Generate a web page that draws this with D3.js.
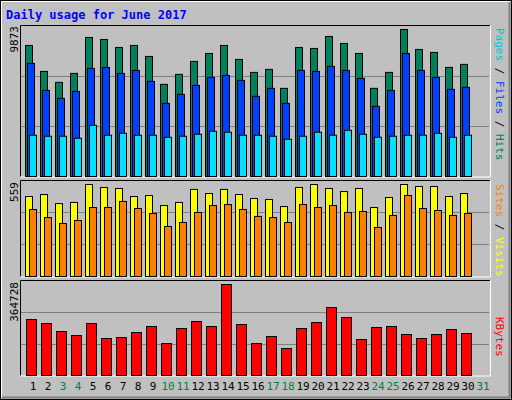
<!DOCTYPE html>
<html><head><meta charset="utf-8">
<script src="https://cdn.jsdelivr.net/npm/d3@7"></script>
<style>body{margin:0;background:#fff}svg{display:block}</style>
</head><body>
<script>
const days = d3.range(1, 32);
const weekendDays = [3,4,10,11,17,18,24,25,31];
const hits = [8802,7059,6322,6925,9338,9204,8668,8802,8065,6188,6858,7730,8266,8802,7864,6992,7193,5920,8668,8601,9405,8936,8266,5920,6992,9873,8534,8333,7328,7529];
const files = [7596,5786,5250,5719,7261,7328,6925,7127,6389,4915,5518,6121,6657,6791,6456,5384,5920,4915,7127,7059,7395,7127,6590,4714,5786,8266,7127,6657,5853,5987];
const pages = [2770,2703,2703,2569,3440,2770,2904,2770,2770,2636,2703,2837,3038,2971,2770,2770,2703,2502,2703,2971,2770,3105,2837,2636,2703,2770,2770,2904,2636,2770];
const visits = [486,498,443,450,559,541,535,486,492,431,450,529,504,529,498,474,468,425,541,559,535,516,535,419,480,559,547,547,486,504];
const sites = [407,358,322,340,419,419,456,413,383,304,328,389,431,437,407,365,358,328,437,419,431,389,395,298,371,492,413,401,371,383];
const kbytes = [224448,208416,176352,160320,208416,148296,152304,172344,196392,128256,188376,216432,196392,364728,204408,128256,156312,108216,188376,212424,272544,232464,144288,192384,196392,164328,148296,164328,184368,168336];
const maxLabels = ["9873","559","364728"];

const W=512,H=400;
const svg=d3.select("body").append("svg").attr("width",W).attr("height",H);
svg.append("rect").attr("width",W).attr("height",H).attr("fill","#c0c0c0");
// outer 3D frame
svg.append("rect").attr("x",0.5).attr("y",0.5).attr("width",W-1).attr("height",H-1).attr("fill","none").attr("stroke","#000");
svg.append("path").attr("d","M1.5,398V1.5H510").attr("stroke","#fff").attr("fill","none");
svg.append("path").attr("d","M2,397.5H509.5V2").attr("stroke","#808080").attr("stroke-width",2).attr("fill","none");

svg.append("text").attr("x",6).attr("y",19).attr("font-family","DejaVu Sans Mono").attr("font-weight","bold")
  .attr("font-size",12).attr("fill","#0000ff").text("Daily usage for June 2017");

const x = d3.scaleBand().domain(days).range([25,490]).paddingInner(0).paddingOuter(0);
// band step = 15
const mono="DejaVu Sans Mono";

function panel(y0,y1){
  svg.append("rect").attr("x",20).attr("y",y0).attr("width",470).attr("height",y1-y0).attr("fill","#c0c0c0");
  const h=y1-y0;
  [1/3,2/3].forEach(f=>{
    const gy=Math.round(y1-h*f)+0.5;
    svg.append("line").attr("x1",21).attr("x2",489).attr("y1",gy).attr("y2",gy).attr("stroke","#808080");
  });
  svg.append("path").attr("d",`M20.5,${y1}V${y0+0.5}H490`).attr("stroke","#000").attr("fill","none");
  svg.append("path").attr("d",`M20.5,${y1+0.5}H490.5V${y0}`).attr("stroke","#fff").attr("fill","none");
}
panel(25,176.5); panel(180,276.5); panel(280,375.5);

function bars(data,y,off,w,color){
  svg.append("g").selectAll("rect").data(data).join("rect")
    .attr("x",(d,i)=>x(i+1)+off+0.5).attr("width",w)
    .attr("y",d=>y(d)+0.5).attr("height",d=>y(0)-y(d))
    .attr("fill",color).attr("stroke","#000").attr("stroke-width",1);
}
const y1s=d3.scaleLinear().domain([0,9873]).range([176,29]);
const y2s=d3.scaleLinear().domain([0,559]).range([276,184]);
const y3s=d3.scaleLinear().domain([0,364728]).range([375,284]);
bars(hits,y1s,0,7,"#00805c");
bars(files,y1s,2,7,"#0040ff");
bars(pages,y1s,4,7,"#00e0ff");
bars(visits,y2s,0,7,"#ffff00");
bars(sites,y2s,4,7,"#ff8000");
bars(kbytes,y3s,1,10,"#ff0000");

// max labels rotated
[[y1s,25],[y2s,181],[y3s,281]].forEach(([s,top],i)=>{
  svg.append("text").attr("transform",`translate(18,${top+1}) rotate(-90)`).attr("text-anchor","end")
    .attr("font-family",mono).attr("font-size",11).attr("fill","#000").text(maxLabels[i]);
});

// right legends (rotated 90)
function legend(parts,yTop){
  const t=svg.append("text").attr("transform",`translate(496,${yTop}) rotate(90)`)
    .attr("font-family",mono).attr("font-size",11);
  parts.forEach(p=>t.append("tspan").attr("fill",p[1]).text(p[0]));
}
legend([["Pages","#00c0e0"],[" / ","#000"],["Files","#0040ff"],[" / ","#000"],["Hits","#00805c"]],28);
legend([["Sites","#ff8000"],[" / ","#000"],["Visits","#ffff00"]],184);
legend([["KBytes","#ff0000"]],317);

// day axis
const ax=d3.axisBottom(x).tickSize(0).tickPadding(0);
const g=svg.append("g").attr("transform","translate(0,382)").call(ax);
g.select(".domain").remove();
g.selectAll("text").attr("font-family",mono).attr("font-size",11).attr("dy","0.71em")
  .attr("fill",d=>weekendDays.includes(d)?"#008040":"#000");
g.selectAll(".tick").attr("transform",d=>`translate(${x(d)+8},0)`);
</script>
</body></html>
